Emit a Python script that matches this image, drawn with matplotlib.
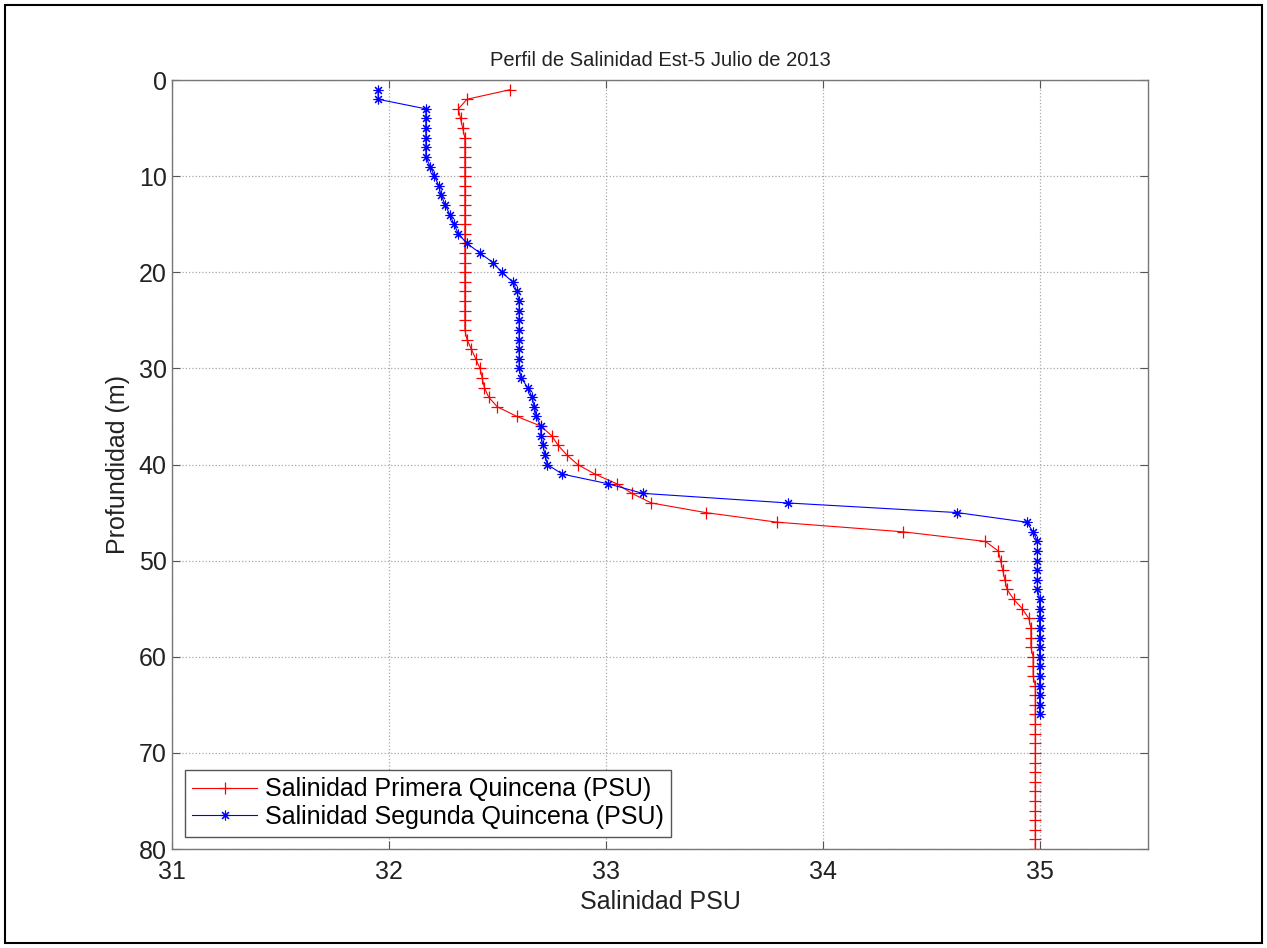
import matplotlib
matplotlib.use("Agg")
import matplotlib.pyplot as plt
from matplotlib.patches import Rectangle

# Salinity profiles, station 5, July 2013 (depth in m, salinity in PSU)
depth_primera = list(range(1, 81))
sal_primera = [
    32.56, 32.36, 32.32, 32.33, 32.34, 32.35, 32.35, 32.35, 32.35, 32.35,
    32.35, 32.35, 32.35, 32.35, 32.35, 32.35, 32.35, 32.35, 32.35, 32.35,
    32.35, 32.35, 32.35, 32.35, 32.35, 32.35, 32.36, 32.38, 32.40, 32.42,
    32.43, 32.44, 32.46, 32.50, 32.59, 32.70, 32.75, 32.78, 32.82, 32.87,
    32.95, 33.05, 33.12, 33.21, 33.46, 33.79, 34.37, 34.75, 34.81, 34.82,
    34.83, 34.84, 34.85, 34.88, 34.92, 34.95, 34.96, 34.96, 34.96, 34.97,
    34.97, 34.97, 34.98, 34.98, 34.98, 34.98, 34.98, 34.98, 34.98, 34.98,
    34.98, 34.98, 34.98, 34.98, 34.98, 34.98, 34.98, 34.98, 34.98, 34.98,
]

depth_segunda = list(range(1, 67))
sal_segunda = [
    31.95, 31.95, 32.17, 32.17, 32.17, 32.17, 32.17, 32.17, 32.19, 32.21,
    32.23, 32.24, 32.26, 32.28, 32.30, 32.32, 32.36, 32.42, 32.48, 32.52,
    32.57, 32.59, 32.60, 32.60, 32.60, 32.60, 32.60, 32.60, 32.60, 32.60,
    32.61, 32.64, 32.66, 32.67, 32.68, 32.70, 32.70, 32.71, 32.72, 32.73,
    32.80, 33.01, 33.17, 33.84, 34.62, 34.94, 34.97, 34.99, 34.99, 34.99,
    34.99, 34.99, 34.99, 35.00, 35.00, 35.00, 35.00, 35.00, 35.00, 35.00,
    35.00, 35.00, 35.00, 35.00, 35.00, 35.00,
]

x_ticks = [31, 32, 33, 34, 35]
y_ticks = [0, 10, 20, 30, 40, 50, 60, 70, 80]

plt.rcParams.update({
    "font.family": ["Liberation Sans", "DejaVu Sans"],
    "font.size": 18,
})

fig = plt.figure(figsize=(12.67, 9.48), dpi=100, facecolor="white")
ax = fig.add_axes([0.1358, 0.1044, 0.7703, 0.8112])

ax.plot(sal_primera, depth_primera, color="red", linewidth=0.8,
        marker="+", markersize=8, markeredgewidth=0.9,
        label="Salinidad Primera Quincena (PSU)")
ax.plot(sal_segunda, depth_segunda, color="blue", linewidth=0.8,
        marker=(8, 2, 0), markersize=7, markeredgewidth=0.8,
        label="Salinidad Segunda Quincena (PSU)")

ax.set_xlim(31, 35.5)
ax.set_ylim(80, 0)
ax.set_xticks(x_ticks)
ax.set_yticks(y_ticks)
ax.grid(True, linestyle=":", color="#a8a8a8", linewidth=0.9)
ax.tick_params(direction="in", length=6, top=True, right=True,
               labelsize=18, colors="#555555", labelcolor="#222222")
ax.tick_params(axis="x", pad=8)
ax.tick_params(axis="y", pad=4)
for sp in ax.spines.values():
    sp.set_color("#777777")
    sp.set_linewidth(1.0)

ax.set_xlabel("Salinidad PSU", fontsize=18, color="#222222", labelpad=4)
ax.set_ylabel("Profundidad (m)", fontsize=18, color="#222222", labelpad=6)
ax.set_title("Perfil de Salinidad Est-5 Julio de 2013", fontsize=14.5,
             color="#222222", pad=10)

leg = ax.legend(loc="lower left", fontsize=18, fancybox=False,
                edgecolor="#555555", framealpha=1, handlelength=2.6,
                borderaxespad=0.5, borderpad=0.3, labelspacing=0.15,
                handletextpad=0.3)
leg.get_frame().set_linewidth(1.0)

# black frame around the whole picture
fig.patches.append(Rectangle((0.004, 0.005), 0.992, 0.99, transform=fig.transFigure,
                             fill=False, edgecolor="black", linewidth=1.5))

fig.savefig("out.png", dpi=100, facecolor="white")
